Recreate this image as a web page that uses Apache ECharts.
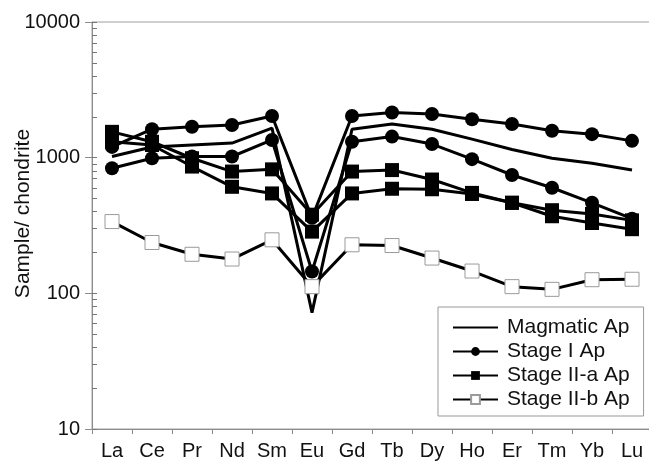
<!DOCTYPE html>
<html>
<head>
<meta charset="utf-8">
<script src="https://cdn.jsdelivr.net/npm/echarts@6/dist/echarts.min.js"></script>
<style>
  html, body { margin: 0; padding: 0; background: #fff; }
  #chart { width: 649px; height: 464px; }
</style>
</head>
<body>
<div id="chart"></div>
<script>
// REE categories
const categories = ['La', 'Ce', 'Pr', 'Nd', 'Sm', 'Eu', 'Gd', 'Tb', 'Dy', 'Ho', 'Er', 'Tm', 'Yb', 'Lu']

// chondrite-normalised values
const magmatic = [1020, 1200, 1240, 1280, 1650, 72, 1620, 1770, 1620, 1370, 1150, 990, 910, 810]
const stageI1 = [1200, 1620, 1690, 1740, 2030, 360, 2030, 2150, 2100, 1920, 1770, 1580, 1490, 1330]
const stageI2 = [835, 990, 1020, 1020, 1350, 145, 1310, 1430, 1260, 975, 745, 600, 465, 355]
const stageIIa1 = [1550, 1310, 990, 790, 820, 380, 790, 810, 690, 550, 465, 410, 385, 345]
const stageIIa2 = [1310, 1240, 860, 610, 545, 285, 545, 590, 585, 540, 465, 370, 330, 297]
const stageIIb = [338, 237, 194, 179, 248, 112, 228, 225, 182, 146, 112, 107, 126, 127]

const yTicks = [10, 100, 1000, 10000]

// small ticks of the log axis, in log10 units (1..9 of each decade)
const minorTicks = []
for (let d = 1; d < 4; d++) {
  for (let k = 1; k <= 9; k++) minorTicks.push(d + Math.log10(k))
}
minorTicks.push(4)

const font = 'Liberation Sans, Arial, sans-serif'
const axisGray = '#8c8c8c'

function lineSeries(name, data, symbol, filled) {
  return {
    name: name,
    type: 'line',
    data: data,
    symbol: symbol,
    symbolSize: 14,
    showSymbol: symbol !== 'none',
    lineStyle: { color: '#000', width: 3 },
    itemStyle: filled
      ? { color: '#000' }
      : { color: '#fff', borderColor: '#9a9a9a', borderWidth: 1 },
    emphasis: { disabled: true },
    animation: false
  }
}

const chart = echarts.init(document.getElementById('chart'), null, { renderer: 'canvas' })
chart.setOption({
  backgroundColor: '#fff',
  grid: {
    left: 92,
    top: 22,
    right: -3,
    bottom: 35,
    outerBoundsMode: 'none',
    show: true,
    borderColor: '#a0a0a0',
    borderWidth: 1
  },
  legend: {
    orient: 'vertical',
    left: 438,
    top: 307,
    padding: [10, 14, 6, 14],
    itemWidth: 45,
    itemHeight: 11,
    itemGap: 3,
    backgroundColor: '#fff',
    borderColor: '#999',
    borderWidth: 1,
    textStyle: { fontFamily: font, fontSize: 21, color: '#111', padding: [0, 0, 0, 4] },
    data: [
      // the plain line has no marker, hide the default legend dot
      { name: 'Magmatic Ap', itemStyle: { opacity: 0 } },
      'Stage I Ap',
      'Stage II-a Ap',
      'Stage II-b Ap'
    ]
  },
  xAxis: {
    type: 'category',
    data: categories,
    boundaryGap: true,
    axisLine: { lineStyle: { color: axisGray, width: 1 } },
    axisTick: { show: true, length: 5, lineStyle: { color: axisGray } },
    axisLabel: { fontFamily: font, fontSize: 20, color: '#111', margin: 12, interval: 0 },
    splitLine: { show: false }
  },
  yAxis: [
    {
      type: 'log',
      logBase: 10,
      min: 10,
      max: 10000,
      name: 'Sample/ chondrite',
      nameLocation: 'middle',
      nameGap: 58,
      nameMoveOverlap: false,
      nameTextStyle: { fontFamily: font, fontSize: 21, color: '#111', padding: [0, 0, 0, 24] },
      axisLine: { show: true, lineStyle: { color: axisGray, width: 1 } },
      axisTick: { show: true, length: 7, lineStyle: { color: axisGray } },
      axisLabel: {
        fontFamily: font,
        fontSize: 20,
        color: '#111',
        margin: 12,
        customValues: yTicks,
        formatter: v => String(Math.round(v))
      },
      splitLine: { show: false }
    },
    {
      // helper axis only for the small ticks
      type: 'value',
      min: 1,
      max: 4,
      position: 'left',
      axisLine: { show: false },
      axisTick: { show: true, inside: true, length: 5, customValues: minorTicks, lineStyle: { color: '#777', width: 1 } },
      axisLabel: { show: false },
      splitLine: { show: false }
    }
  ],
  series: [
    lineSeries('Magmatic Ap', magmatic, 'none', true),
    lineSeries('Stage I Ap', stageI1, 'circle', true),
    lineSeries('Stage I Ap', stageI2, 'circle', true),
    lineSeries('Stage II-a Ap', stageIIa1, 'rect', true),
    lineSeries('Stage II-a Ap', stageIIa2, 'rect', true),
    lineSeries('Stage II-b Ap', stageIIb, 'rect', false)
  ]
})
</script>
</body>
</html>
